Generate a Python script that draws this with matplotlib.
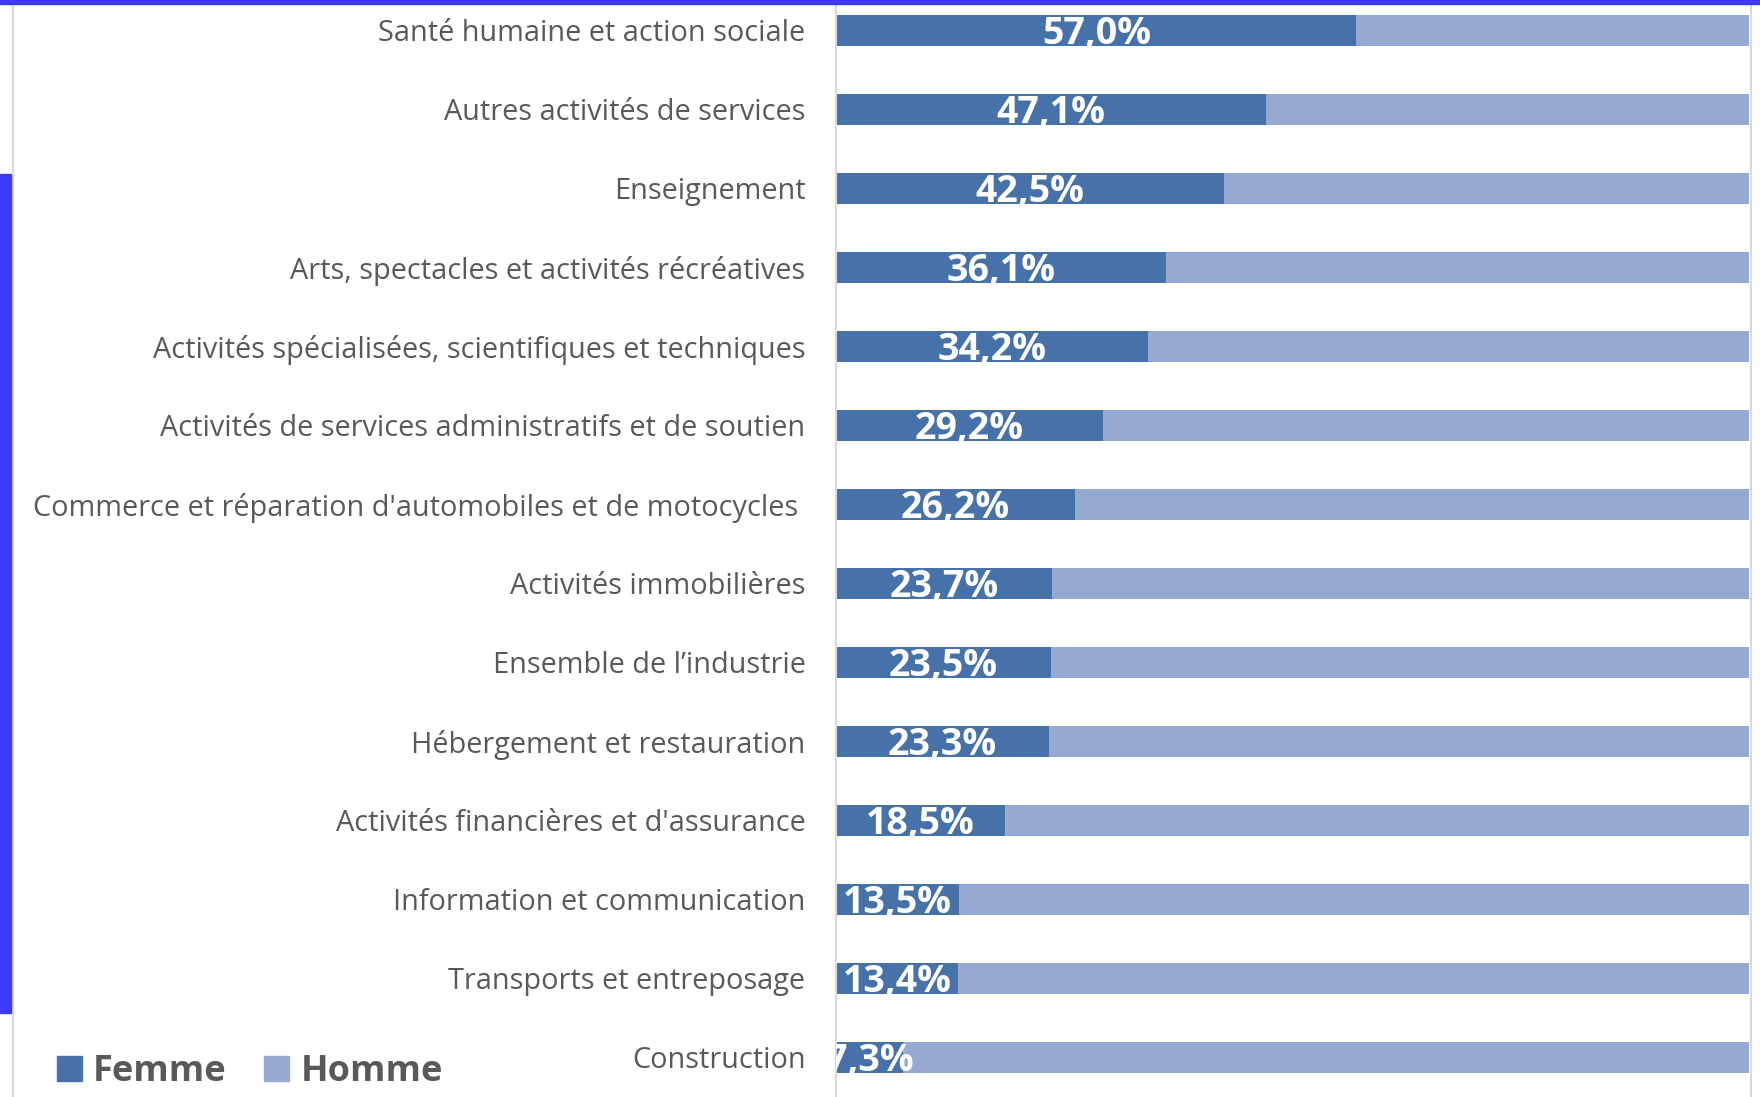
import matplotlib
matplotlib.use("Agg")
from matplotlib import pyplot as plt
from matplotlib.patches import Rectangle, Patch

secteurs = [
    "Santé humaine et action sociale",
    "Autres activités de services",
    "Enseignement",
    "Arts, spectacles et activités récréatives",
    "Activités spécialisées, scientifiques et techniques",
    "Activités de services administratifs et de soutien",
    "Commerce et réparation d'automobiles et de motocycles ",
    "Activités immobilières",
    "Ensemble de l’industrie",
    "Hébergement et restauration",
    "Activités financières et d'assurance",
    "Information et communication",
    "Transports et entreposage",
    "Construction",
]
femme = [57.0, 47.1, 42.5, 36.1, 34.2, 29.2, 26.2, 23.7, 23.5, 23.3, 18.5, 13.5, 13.4, 7.3]
homme = [100 - f for f in femme]

dark = "#4672a9"
light = "#95a9d1"
grey = "#595959"

plt.rcParams["font.family"] = ["Open Sans", "DejaVu Sans"]

fig = plt.figure(figsize=(17.6, 10.97), dpi=100)
ax = fig.add_axes([836 / 1760, 0, (1749 - 836) / 1760, 1])

pos = list(range(len(secteurs)))
ax.barh(pos, femme, height=0.4, color=dark)
ax.barh(pos, homme, left=femme, height=0.4, color=light)

for p, f in zip(pos, femme):
    txt = f"{f:.1f}%".replace(".", ",")
    ax.text(f / 2, p + 0.05, txt, ha="center", va="center", color="white",
            fontsize=27, fontweight="bold", clip_on=True)

ax.set_xlim(0, 100)
ax.set_ylim(13.50, -0.384)
ax.set_yticks(pos)
ax.set_yticklabels(secteurs, fontsize=20.8, color=grey)
ax.tick_params(axis="y", length=0, pad=22)
ax.set_xticks([])
for s in ["top", "right", "bottom"]:
    ax.spines[s].set_visible(False)
ax.spines["left"].set_color("#d9d9d9")
ax.spines["left"].set_linewidth(1.5)

# frame pieces from the screenshot
fig.patches.append(Rectangle((0, 1 - 4 / 1097), 1, 4 / 1097, transform=fig.transFigure,
                             color="#3b3bff", zorder=5))
fig.patches.append(Rectangle((0, 1 - 1013 / 1097), 11 / 1760, (1013 - 174) / 1097,
                             transform=fig.transFigure, color="#3b3bff", zorder=5))
fig.add_artist(plt.Line2D([12.5 / 1760] * 2, [0, 1], color="#d9d9d9", lw=1.5))
fig.add_artist(plt.Line2D([1751 / 1760] * 2, [0, 1], color="#d9d9d9", lw=1.5))

handles = [Patch(color=dark, label="Femme"), Patch(color=light, label="Homme")]
fig.legend(handles=handles, loc="center left", bbox_to_anchor=(24 / 1760, 1 - 1072 / 1097),
           ncol=2, frameon=False, handlelength=0.7, handleheight=0.7, handletextpad=0.3,
           columnspacing=1.05, prop={"size": 26, "weight": "bold"}, labelcolor=grey)

fig.savefig("out.png", dpi=100)
